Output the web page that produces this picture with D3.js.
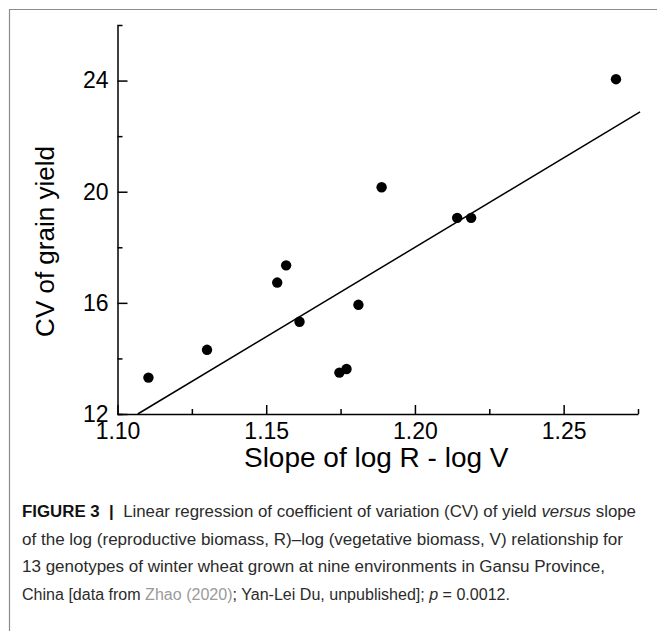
<!DOCTYPE html>
<html>
<head>
<meta charset="utf-8">
<script src="https://cdn.jsdelivr.net/npm/d3@7"></script>
<style>
  body { margin: 0; background: #fff; }
  text { font-family: "Liberation Sans", Arial, sans-serif; }
</style>
</head>
<body>
<div class="container"></div>
<script>
// values
var slopeX = [1.1104, 1.1301, 1.1537, 1.1567, 1.1612, 1.1746, 1.1770, 1.1810, 1.1888, 1.2142, 1.2189, 1.2676]
var cvY    = [13.31, 14.31, 16.73, 17.35, 15.32, 13.49, 13.62, 15.93, 20.16, 19.06, 19.06, 24.05]

// fitted line ends
var fitX = [1.1068, 1.2757]
var fitY = [12, 22.87]

var xMajor = [1.10, 1.15, 1.20, 1.25]
var xMinor = [1.125, 1.175, 1.225, 1.275]
var yMajor = [12, 16, 20, 24]
var yMinor = [14, 18, 22]

var opts = {
  width: 657,
  height: 631,
  left: 117.5,
  right: 638,
  top: 25,
  bottom: 414
}

var svg = d3.select('.container').append('svg')
  .attr('width', opts.width)
  .attr('height', opts.height)

// page frame (left + top rule)
svg.append('path')
  .attr('d', 'M9.5,' + opts.height + 'V9.5H' + opts.width)
  .attr('fill', 'none')
  .attr('stroke', '#8c8c8c')
  .attr('stroke-width', 1.2)

var x = d3.scaleLinear().domain([1.10, 1.275]).range([opts.left, opts.right])
var y = d3.scaleLinear().domain([12, 26]).range([opts.bottom, opts.top])

// x axis
var gx = svg.append('g').attr('transform', 'translate(0,' + opts.bottom + ')')
gx.call(d3.axisBottom(x).tickValues(xMajor).tickFormat(d3.format('.2f'))
  .tickSize(-9).tickSizeOuter(0).tickPadding(9))
svg.append('g').attr('transform', 'translate(0,' + opts.bottom + ')')
  .call(d3.axisBottom(x).tickValues(xMinor).tickFormat('').tickSize(-5).tickSizeOuter(0))
  .select('.domain').remove()

// y axis
var gy = svg.append('g').attr('transform', 'translate(' + opts.left + ',0)')
gy.call(d3.axisLeft(y).tickValues(yMajor).tickFormat(d3.format('d'))
  .tickSize(-10).tickSizeOuter(-5).tickPadding(9))
svg.append('g').attr('transform', 'translate(' + opts.left + ',0)')
  .call(d3.axisLeft(y).tickValues(yMinor).tickFormat('').tickSize(-5).tickSizeOuter(0))
  .select('.domain').remove()

svg.selectAll('.domain, .tick line')
  .attr('stroke', '#000')
  .attr('stroke-width', 1.5)
svg.selectAll('.tick text')
  .attr('fill', '#000')
  .style('font-size', '23px')

// regression line
svg.append('line')
  .attr('x1', x(fitX[0])).attr('y1', y(fitY[0]))
  .attr('x2', x(fitX[1])).attr('y2', y(fitY[1]))
  .attr('stroke', '#000')
  .attr('stroke-width', 1.5)

// points
svg.selectAll('circle.pt').data(d3.range(slopeX.length)).enter().append('circle')
  .attr('class', 'pt')
  .attr('cx', function (i) { return x(slopeX[i]) })
  .attr('cy', function (i) { return y(cvY[i]) })
  .attr('r', 5.2)
  .style('fill', '#000')

// axis titles
svg.append('text')
  .attr('x', (opts.left + opts.right) / 2 - 1.5)
  .attr('y', 467)
  .attr('text-anchor', 'middle')
  .style('font-size', '28px')
  .text('Slope of log R - log V')

svg.append('text')
  .attr('transform', 'translate(54,241.5) rotate(-90)')
  .attr('text-anchor', 'middle')
  .style('font-size', '26px')
  .text('CV of grain yield')

// caption
var capLines = [
  [['FIGURE 3', 'b'], ['  |  ', 'b'], ['Linear regression of coefficient of variation (CV) of yield ', ''], ['versus', 'i'], [' slope', '']],
  [['of the log (reproductive biomass, R)–log (vegetative biomass, V) relationship for', '']],
  [['13 genotypes of winter wheat grown at nine environments in Gansu Province,', '']],
  [['China [data from ', ''], ['Zhao (2020)', 'link'], ['; Yan-Lei Du, unpublished]; ', ''], ['p', 'i'], [' = 0.0012.', '']]
]
var capWidths = [614, 601, 583, 488]
var capBase = [517, 544.5, 572, 599.5]

capLines.forEach(function (line, li) {
  var t = svg.append('text')
    .attr('x', 22)
    .attr('y', capBase[li])
    .attr('fill', '#2b2b2b')
    .style('font-size', '16px')
    .style('white-space', 'pre')
  line.forEach(function (part) {
    var s = t.append('tspan').text(part[0])
    if (part[1] === 'b') s.style('font-weight', 'bold').attr('fill', '#111')
    if (part[1] === 'i') s.style('font-style', 'italic')
    if (part[1] === 'link') s.attr('fill', '#9a9a9a')
  })
  t.attr('textLength', capWidths[li]).attr('lengthAdjust', 'spacingAndGlyphs')
})
</script>
</body>
</html>
